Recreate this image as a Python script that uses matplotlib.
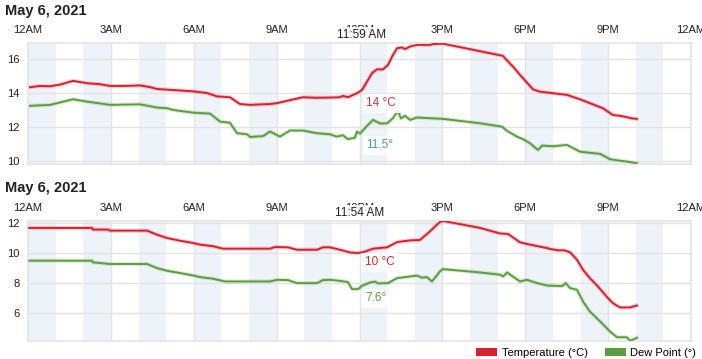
import matplotlib
matplotlib.use("Agg")
import matplotlib.pyplot as plt
from matplotlib.patches import Patch
from matplotlib.transforms import blended_transform_factory

plt.rcParams['font.family'] = ['Liberation Sans', 'DejaVu Sans']

# ---------------- data ----------------
title1 = "May 6, 2021"
title2 = "May 6, 2021"
tick_hours = [0, 3, 6, 9, 12, 15, 18, 21, 24]
tick_labels = ["12AM", "3AM", "6AM", "9AM", "12PM", "3PM", "6PM", "9PM", "12AM"]

top_temp_h = [0.07, 0.43, 0.80, 1.16, 1.63, 2.14, 2.61, 2.97, 3.51, 4.05, 4.42, 4.67, 5.03, 5.50, 5.97,
              6.48, 6.84, 7.31, 7.67, 8.04, 8.76, 9.01, 9.95, 10.39, 10.93, 11.29, 11.40, 11.58, 11.91,
              12.09, 12.27, 12.45, 12.63, 12.85, 13.03, 13.21, 13.36, 13.54, 13.65, 13.83, 14.08, 14.55,
              14.66, 15.02, 17.19, 17.38, 17.56, 17.81, 18.28, 18.53, 19.00, 19.51, 19.98, 20.81, 21.17,
              21.43, 21.68, 21.86, 22.04]
top_temp_v = [14.34, 14.42, 14.40, 14.50, 14.72, 14.58, 14.52, 14.42, 14.42, 14.45, 14.35, 14.24, 14.20,
              14.15, 14.10, 14.00, 13.80, 13.75, 13.35, 13.30, 13.35, 13.40, 13.75, 13.72, 13.73, 13.75,
              13.83, 13.75, 13.99, 14.18, 14.67, 15.17, 15.40, 15.40, 15.66, 16.25, 16.65, 16.70, 16.60,
              16.75, 16.85, 16.85, 16.90, 16.92, 16.20, 15.86, 15.56, 15.07, 14.22, 14.08, 13.99, 13.89,
              13.63, 13.10, 12.70, 12.65, 12.57, 12.50, 12.47]

top_dew_h = [0.07, 0.80, 1.63, 2.14, 2.97, 4.05, 4.67, 5.03, 5.25, 5.97, 6.59, 6.95, 7.31, 7.57, 7.93,
             8.04, 8.51, 8.76, 9.12, 9.48, 9.95, 10.46, 10.93, 11.17, 11.40, 11.58, 11.83, 11.91, 12.02,
             12.27, 12.49, 12.74, 12.99, 13.21, 13.39, 13.50, 13.65, 13.83, 14.08, 15.02, 16.36, 17.16,
             17.34, 17.70, 17.92, 18.17, 18.46, 18.61, 19.00, 19.51, 19.98, 20.71, 21.07, 21.68, 22.04]
top_dew_v = [13.24, 13.30, 13.63, 13.49, 13.30, 13.33, 13.14, 13.10, 13.00, 12.84, 12.78, 12.31, 12.24,
             11.62, 11.56, 11.40, 11.45, 11.72, 11.42, 11.78, 11.78, 11.62, 11.56, 11.42, 11.50, 11.27,
             11.35, 11.72, 11.60, 12.05, 12.41, 12.20, 12.20, 12.51, 12.94, 12.50, 12.65, 12.41, 12.55,
             12.47, 12.21, 12.01, 11.76, 11.42, 11.27, 11.03, 10.63, 10.89, 10.85, 10.93, 10.53, 10.40,
             10.08, 9.94, 9.84]

bot_temp_h = [0.04, 2.32, 2.35, 2.90, 2.97, 4.31, 4.67, 5.03, 5.50, 5.97, 6.23, 6.70, 7.06, 8.76, 8.94,
              9.41, 9.74, 10.46, 10.68, 10.93, 11.29, 11.66, 11.91, 12.13, 12.49, 13.00, 13.36, 13.83,
              14.19, 14.55, 14.91, 15.05, 16.36, 17.09, 17.38, 17.81, 18.17, 18.79, 18.90, 19.20, 19.42,
              19.62, 19.87, 20.09, 20.34, 20.63, 20.96, 21.17, 21.43, 21.79, 22.04]
bot_temp_v = [11.67, 11.67, 11.56, 11.56, 11.49, 11.49, 11.22, 11.00, 10.82, 10.67, 10.56, 10.45, 10.29,
              10.29, 10.40, 10.38, 10.22, 10.22, 10.38, 10.38, 10.22, 10.04, 10.00, 10.05, 10.29, 10.38,
              10.73, 10.84, 10.87, 11.44, 12.07, 12.13, 11.67, 11.30, 11.27, 10.71, 10.56, 10.33, 10.27,
              10.18, 10.18, 10.05, 9.56, 8.89, 8.33, 7.78, 7.07, 6.67, 6.38, 6.38, 6.51]

bot_dew_h = [0.04, 2.32, 2.35, 2.97, 4.31, 4.67, 5.03, 5.50, 5.97, 6.23, 6.70, 7.13, 8.76, 9.01, 9.41,
             9.74, 10.46, 10.68, 10.93, 11.29, 11.58, 11.73, 11.95, 12.09, 12.38, 12.56, 12.67, 13.03,
             13.36, 13.83, 14.08, 14.26, 14.44, 14.62, 14.80, 14.91, 15.02, 16.36, 17.09, 17.20, 17.34,
             17.81, 18.06, 18.43, 18.79, 19.33, 19.47, 19.62, 19.87, 20.09, 20.34, 20.71, 21.07, 21.32,
             21.68, 21.79, 22.04]
bot_dew_v = [9.49, 9.49, 9.38, 9.27, 9.27, 9.00, 8.82, 8.67, 8.51, 8.40, 8.29, 8.11, 8.11, 8.22, 8.20,
             8.00, 8.00, 8.20, 8.22, 8.15, 8.07, 7.60, 7.60, 7.82, 8.04, 8.10, 7.98, 8.00, 8.33, 8.44,
             8.50, 8.36, 8.40, 8.11, 8.51, 8.78, 8.93, 8.71, 8.56, 8.44, 8.71, 8.11, 8.22, 8.00, 7.84,
             7.80, 8.00, 7.67, 7.56, 6.78, 6.11, 5.45, 4.78, 4.40, 4.40, 4.15, 4.36]

top_yticks = [10, 12, 14, 16]
bot_yticks = [6, 8, 10, 12]
top_cursor = ("11:59 AM", 11.98, "14 °C", "11.5°")
bot_cursor = ("11:54 AM", 11.9, "10 °C", "7.6°")
legend_labels = ["Temperature (°C)", "Dew Point (°)"]

# ---------------- style ----------------
RED = '#dc1f2e'
GREEN = '#5b9e40'
BAND = '#eef3f9'
GRID = '#e4e4e4'

W, H = 702, 359
fig = plt.figure(figsize=(W / 100, H / 100), dpi=100)


def px_axes(x0, y0, x1, y1):
    return fig.add_axes([x0 / W, 1 - y1 / H, (x1 - x0) / W, (y1 - y0) / H])


def draw_panel(ax, temp_h, temp_v, dew_h, dew_v, ylim, yticks, cursor, lbl_pos):
    ax.set_xlim(0, 24)
    ax.set_ylim(*ylim)
    for h in range(0, 24, 2):
        ax.axvspan(h, h + 1, color=BAND, lw=0, zorder=0)
    for h in tick_hours[1:-1]:
        ax.axvline(h, color=GRID, lw=1, zorder=0.5)
    for y in yticks:
        ax.axhline(y, color=GRID, lw=1, zorder=0.5)
    ax.plot(temp_h, temp_v, color=RED, lw=3, alpha=0.2, zorder=2, solid_joinstyle='round')
    ax.plot(temp_h, temp_v, color=RED, lw=1.4, zorder=3, solid_joinstyle='round')
    ax.plot(dew_h, dew_v, color=GREEN, lw=3, alpha=0.2, zorder=2, solid_joinstyle='round')
    ax.plot(dew_h, dew_v, color=GREEN, lw=1.4, zorder=3, solid_joinstyle='round')
    for s in ax.spines.values():
        s.set_color('#e8e8e8')
        s.set_linewidth(1.6)
    ax.xaxis.tick_top()
    ax.set_xticks(tick_hours)
    ax.set_xticklabels(tick_labels)
    ax.set_yticks(yticks)
    ax.set_yticklabels([str(v) for v in yticks])
    ax.tick_params(axis='x', length=0, pad=6, labelsize=8, colors='#222222')
    ax.tick_params(axis='y', length=0, pad=6, labelsize=8, colors='#222222')
    ax.set_facecolor('white')
    # cursor labels
    tr = blended_transform_factory(ax.transData, ax.transAxes)
    ax.text(cursor[1] + 0.1, 1.07, cursor[0], transform=tr, ha='center', va='center', fontsize=8.5,
            color='#222222', clip_on=False, zorder=10,
            bbox=dict(boxstyle='square,pad=0.15', fc='white', ec='none', alpha=0.85))
    ax.text(lbl_pos[0], lbl_pos[1], cursor[2], transform=ax.transData, ha='left', va='center',
            fontsize=8.5, color=lbl_pos[4], zorder=10,
            bbox=dict(boxstyle='square,pad=0.3', fc='white', ec='none', alpha=0.85))
    ax.text(lbl_pos[0], lbl_pos[2], cursor[3], transform=ax.transData, ha='left', va='center',
            fontsize=8.5, color=lbl_pos[3], zorder=10,
            bbox=dict(boxstyle='square,pad=0.3', fc='white', ec='none', alpha=0.85))


ax1 = px_axes(28, 43, 691, 164)
draw_panel(ax1, top_temp_h, top_temp_v, top_dew_h, top_dew_v, (9.8, 16.96), top_yticks, top_cursor,
           (12.25, 13.4, 10.9, '#4f9e8c', '#d8304c'))
ax2 = px_axes(28, 221, 691, 341)
draw_panel(ax2, bot_temp_h, bot_temp_v, bot_dew_h, bot_dew_v, (4.15, 12.13), bot_yticks, bot_cursor,
           (12.2, 9.4, 7.0, '#6a9a3a', '#d42a2a'))

fig.text(5 / W, 1 - 11 / H, title1, fontsize=10.5, fontweight='bold', color='#222222', va='center', ha='left')
fig.text(5 / W, 1 - 188 / H, title2, fontsize=10.5, fontweight='bold', color='#222222', va='center', ha='left')

handles = [Patch(facecolor=RED, edgecolor='none'), Patch(facecolor=GREEN, edgecolor='none')]
fig.legend(handles, legend_labels, loc='center right', bbox_to_anchor=(696 / W, 1 - 353 / H),
           ncol=2, frameon=False, fontsize=8, handlelength=1.9, handleheight=0.75,
           handletextpad=0.4, columnspacing=1.5, borderaxespad=0, borderpad=0)

fig.savefig('out.png', dpi=100, facecolor='white')
